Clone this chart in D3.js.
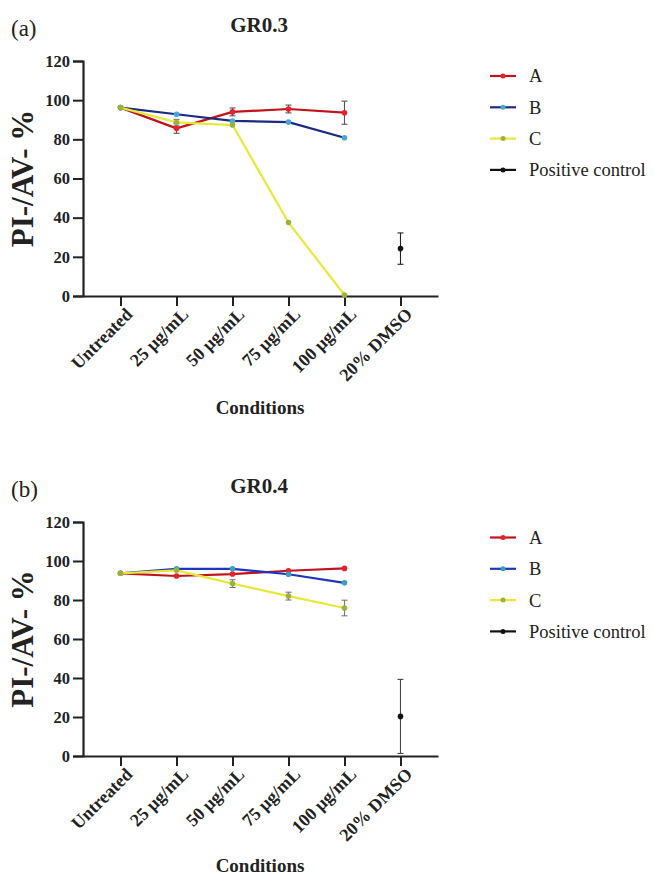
<!DOCTYPE html>
<html>
<head>
<meta charset="utf-8">
<script src="https://cdn.jsdelivr.net/npm/d3@7"></script>
<style>
  body { margin: 0; background: #fff; }
</style>
</head>
<body>
<svg id="chart"></svg>
<script>
// categories on the x axis
const conditions = ["Untreated", "25 μg/mL", "50 μg/mL", "75 μg/mL", "100 μg/mL", "20% DMSO"];
const yTicks = [0, 20, 40, 60, 80, 100, 120];
const seriesNames = ["A", "B", "C", "Positive control"];

// panel (a) GR0.3 - mean values (null = no point)
const gr03_A = [96.2, 85.6, 94.0, 95.5, 93.6, null];
const gr03_B = [96.2, 92.8, 89.4, 88.8, 80.8, null];
const gr03_C = [96.2, 88.7, 87.3, 37.5, 0.5, null];
const gr03_PC = [null, null, null, null, null, 24.2];
const gr03_A_err = [0.8, 2.5, 2.0, 2.0, 5.9, null];
const gr03_B_err = [0.5, 0.8, 0.8, 0.6, 0.6, null];
const gr03_C_err = [0.5, 1.5, 0.8, 0.6, 0.5, null];
const gr03_PC_err = [null, null, null, null, null, 8.0];

// panel (b) GR0.4
const gr04_A = [93.7, 92.3, 93.3, 95.0, 96.2, null];
const gr04_B = [93.7, 96.0, 96.0, 93.2, 88.8, null];
const gr04_C = [93.7, 95.2, 88.4, 82.0, 75.9, null];
const gr04_PC = [null, null, null, null, null, 20.3];
const gr04_A_err = [0.5, 0.6, 0.8, 0.6, 0.6, null];
const gr04_B_err = [0.5, 0.6, 0.6, 0.6, 0.6, null];
const gr04_C_err = [0.5, 0.6, 2.0, 2.0, 4.0, null];
const gr04_PC_err = [null, null, null, null, null, 19.0];

const W = 653, H = 877;
const FONT = "'Liberation Serif', 'Times New Roman', serif";
const svg = d3.select("#chart").attr("width", W).attr("height", H);

function label(sel, size, bold) {
    return sel.style("font-family", FONT)
        .style("font-size", size + "px")
        .style("font-weight", bold ? "bold" : "normal")
        .attr("fill", "#222");
}

function drawPanel(cfg) {
    // chart group positioned at the axis origin
    const g = svg.append("g").attr("transform", `translate(${cfg.left}, ${cfg.top})`);
    const width = 355, height = cfg.height;

    const x = d3.scalePoint().domain(conditions).range([0, width]).padding(0.67);
    const y = d3.scaleLinear().domain([0, 120]).range([height, 0]);

    // y axis
    const yAxis = g.append("g")
        .call(d3.axisLeft(y).tickValues(yTicks).tickSize(10).tickPadding(3));
    yAxis.select(".domain").attr("stroke", "#222").attr("stroke-width", 2.2);
    yAxis.selectAll(".tick line").attr("stroke", "#222").attr("stroke-width", 2);
    label(yAxis.selectAll(".tick text"), 16.5, true);

    // x axis
    const xAxis = g.append("g").attr("transform", `translate(0, ${height})`)
        .call(d3.axisBottom(x).tickSize(10).tickSizeOuter(0).tickPadding(2));
    xAxis.select(".domain").attr("stroke", "#222").attr("stroke-width", 2.2);
    xAxis.selectAll(".tick line").attr("stroke", "#222").attr("stroke-width", 2);
    label(xAxis.selectAll(".tick text"), 18, true)
        .attr("text-anchor", "end")
        .attr("transform", "translate(8, 15) rotate(-45)")
        .attr("dy", "0.35em").attr("y", 0).attr("x", 0);

    // lines + markers + error bars
    cfg.series.forEach(s => {
        const pts = s.values.map((v, i) => ({ c: conditions[i], v: v, e: s.err[i] }))
            .filter(d => d.v !== null);

        const line = d3.line().x(d => x(d.c)).y(d => y(d.v));
        if (pts.length > 1) {
            g.append("path").datum(pts)
                .attr("fill", "none")
                .attr("stroke", s.line)
                .attr("stroke-width", 2.2)
                .attr("stroke-linejoin", "round")
                .attr("d", line);
        }

        // error bars
        const eb = g.append("g").selectAll("g").data(pts.filter(d => d.e > 0.9)).join("g");
        eb.append("line")
            .attr("x1", d => x(d.c)).attr("x2", d => x(d.c))
            .attr("y1", d => y(d.v + d.e)).attr("y2", d => y(d.v - d.e))
            .attr("stroke", s.errColor).attr("stroke-width", 1.1);
        [1, -1].forEach(sign => {
            eb.append("line")
                .attr("x1", d => x(d.c) - 3).attr("x2", d => x(d.c) + 3)
                .attr("y1", d => y(d.v + sign * d.e)).attr("y2", d => y(d.v + sign * d.e))
                .attr("stroke", s.errColor).attr("stroke-width", 1.1);
        });

        g.append("g").selectAll("circle").data(pts).join("circle")
            .attr("cx", d => x(d.c)).attr("cy", d => y(d.v))
            .attr("r", 2.8)
            .attr("fill", s.marker);
    });

    // panel letter
    label(svg.append("text"), 23, false).attr("x", 11).attr("y", cfg.top - 25).text(cfg.letter);

    // title
    label(svg.append("text"), 21, true).attr("x", 259).attr("y", cfg.top - 29)
        .attr("text-anchor", "middle").text(cfg.title);

    // y axis title
    label(svg.append("text"), 31, true)
        .attr("transform", `translate(33, ${cfg.top + height / 2}) rotate(-90)`)
        .attr("text-anchor", "middle").text("PI-/AV- %");

    // x axis title
    label(svg.append("text"), 19, true).attr("x", 260).attr("y", cfg.top + height + cfg.xTitleOffset)
        .attr("text-anchor", "middle").text("Conditions");

    // legend
    const leg = svg.append("g").attr("transform", `translate(490, ${cfg.legendTop})`);
    cfg.series.forEach((s, i) => {
        const row = leg.append("g").attr("transform", `translate(0, ${i * 31.3})`);
        row.append("line").attr("x1", 0).attr("x2", 26).attr("y1", 0).attr("y2", 0)
            .attr("stroke", s.line).attr("stroke-width", 2.2);
        row.append("circle").attr("cx", 13).attr("cy", 0).attr("r", 2.5).attr("fill", s.marker);
        label(row.append("text"), 18.5, false).attr("x", 39).attr("y", 0).attr("dy", "0.35em")
            .text(seriesNames[i]);
    });
}

drawPanel({
    letter: "(a)", title: "GR0.3", left: 83, top: 61, height: 235,
    xTitleOffset: 118, legendTop: 76,
    series: [
        { values: gr03_A, err: gr03_A_err, line: "#c0141c", marker: "#e8202a", errColor: "#555" },
        { values: gr03_B, err: gr03_B_err, line: "#1c2a80", marker: "#45a8d8", errColor: "#555" },
        { values: gr03_C, err: gr03_C_err, line: "#e8e83a", marker: "#9cb23a", errColor: "#777" },
        { values: gr03_PC, err: gr03_PC_err, line: "#111", marker: "#111", errColor: "#222" }
    ]
});

drawPanel({
    letter: "(b)", title: "GR0.4", left: 83, top: 522, height: 234,
    xTitleOffset: 116, legendTop: 537.5,
    series: [
        { values: gr04_A, err: gr04_A_err, line: "#c0141c", marker: "#e8202a", errColor: "#555" },
        { values: gr04_B, err: gr04_B_err, line: "#1f35c0", marker: "#3aa0b8", errColor: "#555" },
        { values: gr04_C, err: gr04_C_err, line: "#e8e83a", marker: "#9cb23a", errColor: "#777" },
        { values: gr04_PC, err: gr04_PC_err, line: "#111", marker: "#111", errColor: "#444" }
    ]
});
</script>
</body>
</html>
